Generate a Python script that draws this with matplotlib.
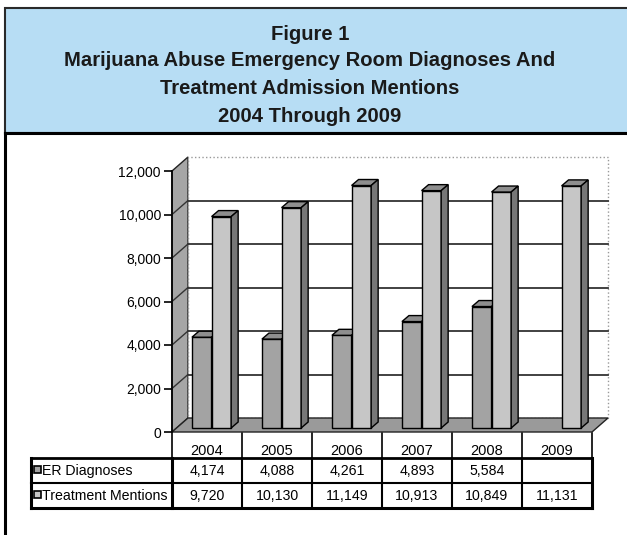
import matplotlib.pyplot as plt
import matplotlib.patches as mpatches
from matplotlib.ticker import StrMethodFormatter

plt.rcParams['font.family'] = ['Liberation Sans', 'DejaVu Sans']

years = ["2004", "2005", "2006", "2007", "2008", "2009"]
er_diag = [4174, 4088, 4261, 4893, 5584, None]
treat = [9720, 10130, 11149, 10913, 10849, 11131]
series_names = ["ER Diagnoses", "Treatment Mentions"]
series_vals = [er_diag, treat]
yticks = [0, 2000, 4000, 6000, 8000, 10000, 12000]

W, H = 627, 535
fig = plt.figure(figsize=(W / 100, H / 100), dpi=100)

# background axes in pixel coordinates (boxes + table)
bg = fig.add_axes([0, 0, 1, 1])
bg.set_xlim(0, W)
bg.set_ylim(H, 0)
bg.axis("off")
bg.set_zorder(0)

# title box
bg.add_patch(mpatches.Rectangle((5, 8), 640, 125, facecolor="#b7ddf4",
                                edgecolor="#2a2a2a", lw=1.5, clip_on=False))
title_lines = ["Figure 1", "Marijuana Abuse Emergency Room Diagnoses And",
               "Treatment Admission Mentions", "2004 Through 2009"]
for t, yy in zip(title_lines, [35, 61, 89, 117]):
    bg.text(310, yy, t, ha="center", va="center", fontsize=14.6,
            fontweight="bold", color="#1a1a1a")

# lower box border
bg.plot([5, 5], [133, 540], color="black", lw=2.2, clip_on=False)
bg.plot([5, 640], [133, 133], color="black", lw=2.2, clip_on=False)

# chart axes
ax = fig.add_axes([172 / W, 1 - 432 / H, 420 / W, 261 / H])
ax.set_zorder(1)
ax.patch.set_visible(False)
n = len(years)
ax.set_xlim(-0.5, n - 0.5)
ax.set_ylim(0, 12000)
for s in ["top", "right", "bottom"]:
    ax.spines[s].set_visible(False)
ax.spines["left"].set_linewidth(1.2)
ax.set_xticks([])
ax.set_yticks(yticks)
ax.yaxis.set_major_formatter(StrMethodFormatter("{x:,.0f}"))
ax.tick_params(axis="y", length=6, width=1.2, pad=2, labelsize=10)

# 3-D box offsets (data units)
dx, dy = 16 / 70, 14 / 261 * 12000
x0, x1 = -0.5, n - 0.5
ytop = 12000

# side wall
ax.add_patch(mpatches.Polygon([(x0, 0), (x0, ytop), (x0 + dx, ytop + dy), (x0 + dx, dy)],
                              closed=True, facecolor="#a6a6a6", edgecolor="#222222",
                              lw=1, clip_on=False, zorder=1))
# back wall
ax.add_patch(mpatches.Rectangle((x0 + dx, dy), n, ytop, facecolor="white",
                                edgecolor="#999999", lw=1, ls=":", clip_on=False, zorder=1))
# floor
ax.add_patch(mpatches.Polygon([(x0, 0), (x1, 0), (x1 + dx, dy), (x0 + dx, dy)],
                              closed=True, facecolor="#9a9a9a", edgecolor="#222222",
                              lw=1, clip_on=False, zorder=2))
# gridlines
for v in yticks[1:-1]:
    ax.plot([x0 + dx, x1 + dx], [v + dy, v + dy], color="#333333", lw=1.3,
            clip_on=False, zorder=2)
    ax.plot([x0, x0 + dx], [v, v + dy], color="#333333", lw=1.0,
            clip_on=False, zorder=2)

# bars
w = 0.28
sx, sy = 0.065, 4 / 261 * 12000
bdx, bdy = 7 / 70, 6 / 261 * 12000
front_cols = ["#a3a3a3", "#c6c6c6"]
side_col = "#777777"
top_col = "#8e8e8e"
for i in range(n):
    for k, vals in enumerate(series_vals):
        v = vals[i]
        if v is None:
            continue
        left = i + sx - w + k * w
        z = 3 + i * 0.1 + k * 0.05
        ax.bar(left, v, width=w, bottom=sy, align="edge", color=front_cols[k],
               edgecolor="black", lw=1, zorder=z, clip_on=False)
        ax.add_patch(mpatches.Polygon(
            [(left, v + sy), (left + w, v + sy), (left + w + bdx, v + sy + bdy),
             (left + bdx, v + sy + bdy)], closed=True, facecolor=top_col,
            edgecolor="black", lw=1, zorder=z, clip_on=False))
        ax.add_patch(mpatches.Polygon(
            [(left + w, sy), (left + w, v + sy), (left + w + bdx, v + sy + bdy),
             (left + w + bdx, sy + bdy)], closed=True, facecolor=side_col,
            edgecolor="black", lw=1, zorder=z, clip_on=False))

# data table (column edges taken from the chart's x scale)
edges = [ax.transData.transform((i - 0.5, 0))[0] for i in range(n + 1)]
edges = [e * W / fig.bbox.width for e in edges]
y_hdr, y_r1, y_r2, y_r3 = 433, 458, 483, 508
xl = 31
for e in edges:
    bg.plot([e, e], [y_hdr, y_hdr + 25], color="black", lw=1.2, zorder=5)
for j, e in enumerate(edges):
    lw = 2.2 if j in (0, n) else 1.5
    bg.plot([e, e], [y_r1, y_r3], color="black", lw=lw, zorder=5)
bg.plot([xl, xl], [y_r1, y_r3], color="black", lw=2.2, zorder=5)
bg.plot([xl, edges[-1]], [y_r1, y_r1], color="black", lw=2.0, zorder=5)
bg.plot([xl, edges[-1]], [y_r2, y_r2], color="black", lw=1.5, zorder=5)
bg.plot([xl, edges[-1]], [y_r3, y_r3], color="black", lw=2.2, zorder=5)

for i, yr in enumerate(years):
    cx = (edges[i] + edges[i + 1]) / 2
    bg.text(cx, 451, yr, ha="center", va="center", fontsize=10.5)
    for r, vals in enumerate(series_vals):
        v = vals[i]
        if v is not None:
            bg.text(cx, 471 + r * 25, f"{v:,}", ha="center", va="center", fontsize=10.2)

for r, name in enumerate(series_names):
    yc = 470 + r * 25
    bg.add_patch(mpatches.Rectangle((34, yc - 4), 7, 7, facecolor=front_cols[r],
                                    edgecolor="black", lw=1.2, zorder=6))
    bg.text(41.5, yc + 1, name, ha="left", va="center", fontsize=10.2)

fig.savefig("out.png", dpi=100)
